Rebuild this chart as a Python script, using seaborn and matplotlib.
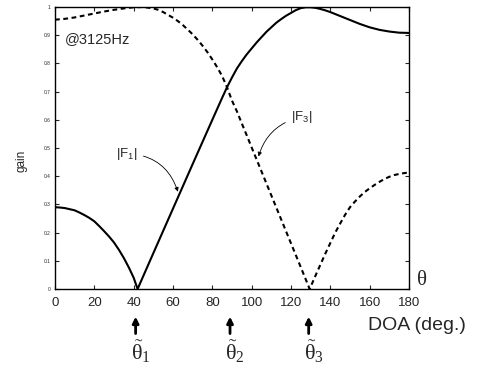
import numpy as np
import pandas as pd
import matplotlib
matplotlib.use("Agg")
import matplotlib.pyplot as plt
import seaborn as sns

# gain curves (DOA in degrees)
doa_f1 = [0, 2.5, 5, 7.5, 10, 12.5, 15, 17.5, 20, 22.5, 25, 27.5, 30, 32.5, 35,
          37.5, 40, 42, 50, 60, 70, 80, 85, 87.5, 90, 92.5, 95, 97.5, 100,
          102.5, 105, 107.5, 110, 112.5, 115, 117.5, 120, 122.5, 125, 127.5,
          130, 132.5, 135, 137.5, 140, 145, 150, 155, 160, 165, 170, 175, 180]
gain_f1 = [0.29, 0.289, 0.287, 0.283, 0.279, 0.271, 0.262, 0.252, 0.24, 0.223,
           0.205, 0.186, 0.165, 0.139, 0.11, 0.077, 0.04, 0.0, 0.127, 0.285,
           0.443, 0.6, 0.678, 0.716, 0.75, 0.782, 0.808, 0.832, 0.853, 0.874,
           0.893, 0.912, 0.928, 0.944, 0.957, 0.969, 0.979, 0.989, 0.996,
           0.999, 0.999, 0.997, 0.993, 0.988, 0.982, 0.968, 0.954, 0.94,
           0.928, 0.919, 0.913, 0.909, 0.908]

doa_f3 = [0, 5, 10, 15, 20, 25, 30, 35, 40, 45, 50, 52.5, 55, 57.5, 60, 62.5,
          65, 67.5, 70, 72.5, 75, 77.5, 80, 82.5, 85, 87.5, 90, 92.5, 95,
          97.5, 100, 105, 110, 115, 120, 125, 129.5, 132.5, 135, 137.5, 140,
          142.5, 145, 147.5, 150, 152.5, 155, 157.5, 160, 162.5, 165, 167.5,
          170, 172.5, 175, 177.5, 180]
gain_f3 = [0.955, 0.958, 0.963, 0.97, 0.977, 0.984, 0.99, 0.995, 0.999, 1.0,
           0.995, 0.99, 0.982, 0.972, 0.962, 0.95, 0.936, 0.92, 0.903, 0.884,
           0.863, 0.84, 0.814, 0.786, 0.755, 0.715, 0.668, 0.63, 0.587, 0.545,
           0.502, 0.417, 0.332, 0.247, 0.162, 0.077, 0.0, 0.048, 0.087, 0.126,
           0.163, 0.2, 0.232, 0.263, 0.29, 0.31, 0.328, 0.344, 0.357, 0.369,
           0.38, 0.39, 0.398, 0.404, 0.408, 0.411, 0.413]

est_doa = [41, 89, 129]
est_labels = [r"$\tilde{\mathrm{\theta}}_1$", r"$\tilde{\mathrm{\theta}}_2$",
              r"$\tilde{\mathrm{\theta}}_3$"]

x_ticks = list(range(0, 181, 20))
y_ticks = [0, 0.1, 0.2, 0.3, 0.4, 0.5, 0.6, 0.7, 0.8, 0.9, 1]
y_ticklabels = ["0", "0.1", "0.2", "0.3", "0.4", "0.5", "0.6", "0.7", "0.8", "0.9", "1"]

df1 = pd.DataFrame({"doa": doa_f1, "gain": gain_f1})
df3 = pd.DataFrame({"doa": doa_f3, "gain": gain_f3})

sns.set_style("ticks", {"xtick.direction": "in", "ytick.direction": "in"})
plt.rcParams["font.family"] = ["Liberation Sans", "DejaVu Sans"]
plt.rcParams["mathtext.fontset"] = "custom"
plt.rcParams["mathtext.rm"] = "Liberation Serif"
plt.rcParams["mathtext.it"] = "Liberation Serif"
plt.rcParams["mathtext.sf"] = "Liberation Sans"

fig = plt.figure(figsize=(4.82, 3.65), dpi=100)
ax = fig.add_axes([0.1141, 0.2082, 0.7344, 0.7726])

sns.lineplot(data=df1, x="doa", y="gain", ax=ax, color="black", lw=1.5)
sns.lineplot(data=df3, x="doa", y="gain", ax=ax, color="black", lw=1.5,
             linestyle=(0, (2.3, 1.7)))

ax.set_xlim(0, 180)
ax.set_ylim(0, 1)
ax.set_xticks(x_ticks)
ax.set_xticklabels([str(t) for t in x_ticks], fontsize=9.5)
ax.set_yticks(y_ticks)
ax.set_yticklabels(y_ticklabels, fontsize=3.5)
ax.tick_params(axis="x", which="both", top=True, direction="in", length=3,
               width=0.8, pad=6)
ax.tick_params(axis="y", which="both", right=True, direction="in", length=3,
               width=0.8, pad=3)
for s in ax.spines.values():
    s.set_linewidth(1.0)
    s.set_color("black")
ax.set_xlabel("")
ax.set_ylabel("gain", fontsize=8.5)
ax.yaxis.set_label_coords(-0.079, 0.454)

ax.text(5, 0.885, "@3125Hz", fontsize=10.5, va="center", ha="left")

ax.annotate(r"$\mathsf{|F_1|}$", xy=(62.5, 0.345), xytext=(36.5, 0.48),
            fontsize=9.5, ha="center", va="center",
            arrowprops=dict(arrowstyle="-|>", color="black", lw=0.6,
                            mutation_scale=6, shrinkA=2, shrinkB=0,
                            connectionstyle="arc3,rad=-0.35"))
ax.annotate(r"$\mathsf{|F_3|}$", xy=(103.5, 0.47), xytext=(125.5, 0.61),
            fontsize=9.5, ha="center", va="center",
            arrowprops=dict(arrowstyle="-|>", color="black", lw=0.6,
                            mutation_scale=6, shrinkA=2, shrinkB=0,
                            connectionstyle="arc3,rad=0.3"))

# arrows and labels under the axis for the estimated DOAs
trans = ax.get_xaxis_transform()
for d, lab in zip(est_doa, est_labels):
    ax.annotate("", xy=(d, -0.098), xytext=(d, -0.158), xycoords=trans,
                textcoords=trans, annotation_clip=False,
                arrowprops=dict(arrowstyle="-|>", color="black", lw=2.0,
                                mutation_scale=9, shrinkA=0, shrinkB=0))
    ax.text(d + 2.5, -0.22, lab, transform=trans, fontsize=16, ha="center",
            va="center")

ax.text(1.035, 0.035, r"$\mathrm{\theta}$", transform=ax.transAxes, fontsize=15,
        ha="center", va="center")
ax.text(417 / 482, 1 - 325 / 365, "DOA (deg.)", transform=fig.transFigure,
        fontsize=14, ha="center", va="center")

fig.savefig("out.png", dpi=100)
